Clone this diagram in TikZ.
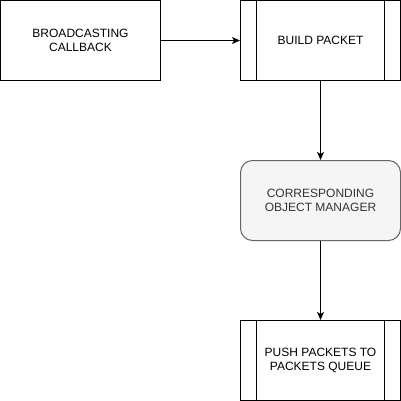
\documentclass[tikz,border=0pt]{standalone}
\usepackage{fontspec}
\setmainfont{Liberation Sans}
\usetikzlibrary{arrows.meta}
\begin{document}
\begin{tikzpicture}[x=1pt,y=-1pt,
  every node/.style={font=\fontsize{12}{14.5}\selectfont, align=center, inner sep=0pt},
  plainbox/.style={draw=black, line width=1pt, minimum width=160pt, minimum height=80pt, fill=white},
  procbox/.style={plainbox, path picture={
      \draw[line width=1pt] ([xshift=16pt]path picture bounding box.north west) -- ([xshift=16pt]path picture bounding box.south west);
      \draw[line width=1pt] ([xshift=-16pt]path picture bounding box.north east) -- ([xshift=-16pt]path picture bounding box.south east);}},
  roundbox/.style={draw=black!60, fill=black!4, text=black!80, line width=1pt, rounded corners=12pt, minimum width=160pt, minimum height=80pt},
  conn/.style={line width=1pt, -{Stealth[length=8pt,width=7pt,inset=2pt]}}
]
\useasboundingbox (0,0) rectangle (401,401);
\node[plainbox] (cb) at (80.5,40.5) {BROADCASTING\\CALLBACK};
\node[procbox] (bp) at (320.5,40.5) {BUILD PACKET};
\node[roundbox] (om) at (320.5,200.5) {CORRESPONDING\\OBJECT MANAGER};
\node[procbox] (pp) at (320.5,360.5) {PUSH PACKETS TO\\PACKETS QUEUE};
\draw[conn] (cb) -- (bp);
\draw[conn] (bp) -- (om);
\draw[conn] (om) -- (pp);
\end{tikzpicture}
\end{document}
